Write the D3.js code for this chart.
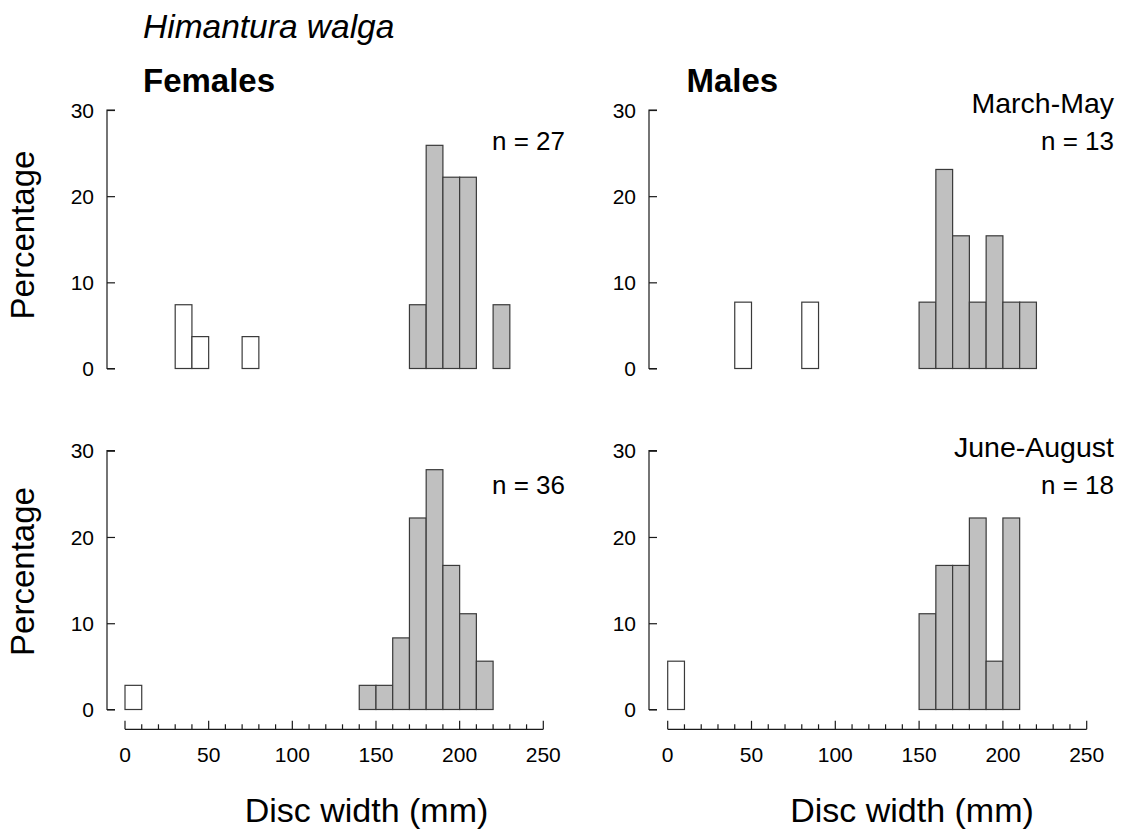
<!DOCTYPE html>
<html>
<head>
<meta charset="utf-8">
<script src="https://cdn.jsdelivr.net/npm/d3@7"></script>
<style>
  body { margin: 0; background: #fff; }
  svg { display: block; font-family: "Liberation Sans", Arial, sans-serif; }
</style>
</head>
<body>
<svg id="chart" width="1128" height="836"></svg>
<script>
// ---------- Data ----------
const binWidth = 10;                       // mm
const xTickLabels = [0, 50, 100, 150, 200, 250];
const yTickLabels = [0, 10, 20, 30];

// Females, March-May (n = 27)
const femMarMayWhiteBins = [30, 40, 70];
const femMarMayWhiteVals = [7.4, 3.7, 3.7];
const femMarMayGrayBins  = [170, 180, 190, 200, 220];
const femMarMayGrayVals  = [7.4, 25.9, 22.2, 22.2, 7.4];

// Males, March-May (n = 13)
const malMarMayWhiteBins = [40, 80];
const malMarMayWhiteVals = [7.7, 7.7];
const malMarMayGrayBins  = [150, 160, 170, 180, 190, 200, 210];
const malMarMayGrayVals  = [7.7, 23.1, 15.4, 7.7, 15.4, 7.7, 7.7];

// Females, June-August (n = 36)
const femJunAugWhiteBins = [0];
const femJunAugWhiteVals = [2.8];
const femJunAugGrayBins  = [140, 150, 160, 170, 180, 190, 200, 210];
const femJunAugGrayVals  = [2.8, 2.8, 8.3, 22.2, 27.8, 16.7, 11.1, 5.6];

// Males, June-August (n = 18)
const malJunAugWhiteBins = [0];
const malJunAugWhiteVals = [5.6];
const malJunAugGrayBins  = [150, 160, 170, 180, 190, 200];
const malJunAugGrayVals  = [11.1, 16.7, 16.7, 22.2, 5.6, 22.2];

const nLabels = ["n = 27", "n = 13", "n = 36", "n = 18"];
const seasonLabels = ["", "March-May", "", "June-August"];

// ---------- Layout ----------
const svg = d3.select("#chart");
const FONT = "'Liberation Sans', Arial, sans-serif";

const panels = [
  { wb: femMarMayWhiteBins, wv: femMarMayWhiteVals, gb: femMarMayGrayBins, gv: femMarMayGrayVals,
    yAxisX: 107, x0: 125, x1: 543.3, yTop: 110, yBot: 368.5, xAxis: false, col: 0, row: 0 },
  { wb: malMarMayWhiteBins, wv: malMarMayWhiteVals, gb: malMarMayGrayBins, gv: malMarMayGrayVals,
    yAxisX: 649, x0: 667.7, x1: 1086.7, yTop: 110, yBot: 368.5, xAxis: false, col: 1, row: 0 },
  { wb: femJunAugWhiteBins, wv: femJunAugWhiteVals, gb: femJunAugGrayBins, gv: femJunAugGrayVals,
    yAxisX: 107, x0: 125, x1: 543.3, yTop: 450.7, yBot: 709.5, xAxis: true, col: 0, row: 1 },
  { wb: malJunAugWhiteBins, wv: malJunAugWhiteVals, gb: malJunAugGrayBins, gv: malJunAugGrayVals,
    yAxisX: 649, x0: 667.7, x1: 1086.7, yTop: 450.7, yBot: 709.5, xAxis: true, col: 1, row: 1 }
];

const axisColor = "#1a1a1a";
const barStroke = "#3a3a3a";

panels.forEach((p, i) => {
  const x = d3.scaleLinear().domain([0, 250]).range([p.x0, p.x1]);
  const y = d3.scaleLinear().domain([0, 30]).range([p.yBot, p.yTop]);
  const g = svg.append("g");

  // bars
  const white = p.wb.map((b, k) => ({ b, v: p.wv[k], fill: "#ffffff" }));
  const gray  = p.gb.map((b, k) => ({ b, v: p.gv[k], fill: "#c0c0c0" }));
  g.selectAll("rect.bar").data(white.concat(gray)).join("rect")
    .attr("class", "bar")
    .attr("x", d => x(d.b))
    .attr("width", d => x(d.b + binWidth) - x(d.b))
    .attr("y", d => y(d.v))
    .attr("height", d => y(0) - y(d.v))
    .attr("fill", d => d.fill)
    .attr("stroke", barStroke)
    .attr("stroke-width", 1.2);

  // y axis (ticks pointing inward)
  const yAxis = d3.axisRight(y).tickValues(yTickLabels).tickSize(8).tickFormat("");
  const ya = g.append("g").attr("transform", `translate(${p.yAxisX},0)`).call(yAxis);
  ya.select(".domain").attr("stroke", axisColor).attr("stroke-width", 1.2)
    .attr("d", `M8,${y(30)}H0V${y(0)}H8`);
  ya.selectAll(".tick line").attr("stroke", axisColor).attr("stroke-width", 1.2);
  g.selectAll("text.ytl").data(yTickLabels).join("text")
    .attr("class", "ytl")
    .attr("x", p.yAxisX - 13)
    .attr("y", d => y(d))
    .attr("dy", "0.36em")
    .attr("text-anchor", "end")
    .attr("font-family", FONT)
    .attr("font-size", 21)
    .attr("fill", "#000")
    .text(d => d);

  // x axis on bottom row
  if (p.xAxis) {
    const axisY = 729.3;
    const minor = d3.range(0, 251, 10);
    const xa = g.append("g");
    xa.append("line").attr("x1", x(0)).attr("x2", x(250))
      .attr("y1", axisY).attr("y2", axisY)
      .attr("stroke", axisColor).attr("stroke-width", 1.2);
    xa.selectAll("line.tk").data(minor).join("line")
      .attr("class", "tk")
      .attr("x1", d => x(d)).attr("x2", d => x(d))
      .attr("y1", axisY)
      .attr("y2", d => axisY - (d % 50 === 0 ? 8.5 : 5))
      .attr("stroke", axisColor).attr("stroke-width", 1.2);
    xa.selectAll("text").data(xTickLabels).join("text")
      .attr("x", d => x(d))
      .attr("y", 761.7)
      .attr("text-anchor", "middle")
      .attr("font-family", FONT)
      .attr("font-size", 21)
      .text(d => d);
    svg.append("text")
      .attr("x", p.col === 0 ? 366.5 : 912)
      .attr("y", 821.5)
      .attr("text-anchor", "middle")
      .attr("font-family", FONT)
      .attr("font-size", 34)
      .text("Disc width (mm)");
  }

  // n label + season label
  const rightEdge = p.col === 0 ? 565 : 1114;
  const nBase = p.row === 0 ? 150 : 494;
  svg.append("text")
    .attr("x", rightEdge).attr("y", nBase)
    .attr("text-anchor", "end")
    .attr("font-family", FONT).attr("font-size", 26)
    .text(nLabels[i]);
  if (seasonLabels[i]) {
    svg.append("text")
      .attr("x", rightEdge).attr("y", nBase - 37)
      .attr("text-anchor", "end")
      .attr("font-family", FONT).attr("font-size", 28.5)
      .text(seasonLabels[i]);
  }

  // y axis title (left column only)
  if (p.col === 0) {
    const cy = p.row === 0 ? 235 : 571.5;
    svg.append("text")
      .attr("transform", `translate(34,${cy}) rotate(-90)`)
      .attr("text-anchor", "middle")
      .attr("font-family", FONT).attr("font-size", 33)
      .text("Percentage");
  }
});

// titles
svg.append("text")
  .attr("x", 143).attr("y", 38)
  .attr("font-family", FONT).attr("font-size", 33.5).attr("font-style", "italic")
  .text("Himantura walga");
svg.append("text")
  .attr("x", 143).attr("y", 92)
  .attr("font-family", FONT).attr("font-size", 33).attr("font-weight", "bold")
  .text("Females");
svg.append("text")
  .attr("x", 686.5).attr("y", 92)
  .attr("font-family", FONT).attr("font-size", 33).attr("font-weight", "bold")
  .text("Males");
</script>
</body>
</html>
